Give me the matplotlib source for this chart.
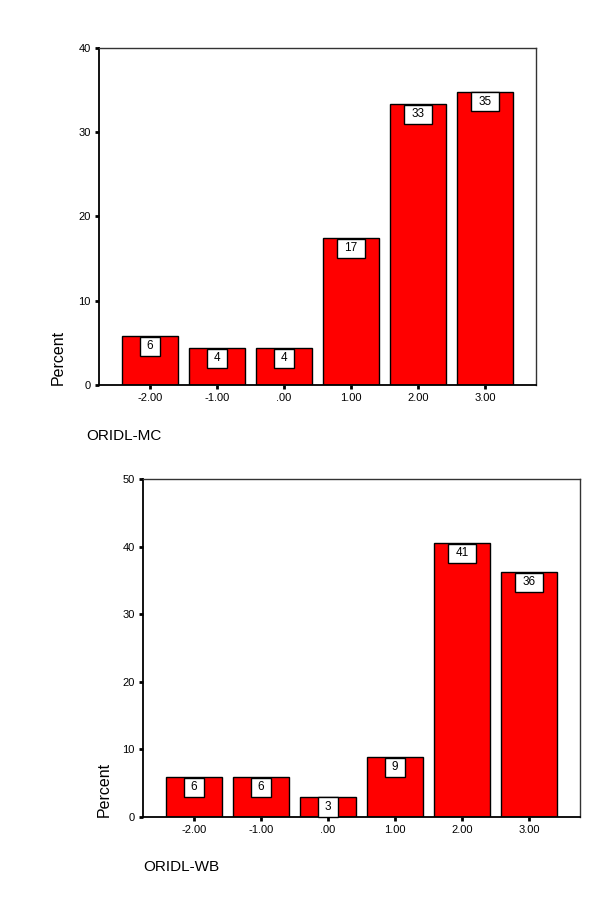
import matplotlib
matplotlib.use('Agg')
import matplotlib.pyplot as plt
from matplotlib.path import Path
import numpy as np

plt.rcParams['font.family'] = ['Liberation Sans', 'DejaVu Sans']

categories = ['-2.00', '-1.00', '.00', '1.00', '2.00', '3.00']

# ORIDL-MC
mc_values = [5.8, 4.35, 4.35, 17.4, 33.3, 34.8]
mc_labels = ['6', '4', '4', '17', '33', '35']

# ORIDL-WB
wb_values = [5.9, 5.9, 2.95, 8.85, 40.5, 36.2]
wb_labels = ['6', '6', '3', '9', '41', '36']

fig = plt.figure(figsize=(6, 9.17), dpi=100)

LABEL_FS = 8.5
PAD_X = 0.6
PAD_Y = 0.3


# label box: wider than it is tall, like the spss value labels
def wide_box(x0, y0, width, height, mutation_size):
    px = PAD_X * mutation_size
    py = PAD_Y * mutation_size
    x0, y0 = x0 - px, y0 - py
    x1, y1 = x0 + width + 2 * px, y0 + height + 2 * py
    return Path([(x0, y0), (x1, y0), (x1, y1), (x0, y1), (x0, y0)], closed=True)


def draw(ax, values, labels, ymax, title, title_x, title_y, ylab_x):
    x = np.arange(len(categories))
    ax.bar(x, values, width=0.84, color='#ff0000', edgecolor='black', linewidth=1)
    ax.set_xlim(-0.76, len(categories) - 1 + 0.76)
    ax.set_ylim(0, ymax)
    for xi, v, lab in zip(x, values, labels):
        ax.annotate(lab, (xi, v), xytext=(0, -(PAD_Y * LABEL_FS + 0.3)), textcoords='offset points',
                    ha='center', va='top', fontsize=LABEL_FS,
                    bbox=dict(boxstyle=wide_box, fc='white', ec='black', lw=1))
    ax.set_xticks(x)
    ax.set_xticklabels(categories)
    ax.set_yticks(np.arange(0, ymax + 1, 10))
    ax.tick_params(axis='both', length=3, width=2, labelsize=8, pad=3)
    for s in ['left', 'bottom']:
        ax.spines[s].set_linewidth(1.3)
        ax.spines[s].set_color('black')
    for s in ['top', 'right']:
        ax.spines[s].set_linewidth(1.0)
        ax.spines[s].set_color('#333333')
    pos = ax.get_position()
    fig.text(ylab_x, pos.y0, 'Percent', rotation=90, ha='center', va='bottom', fontsize=11.5)
    fig.text(title_x, title_y, title, ha='left', va='center', fontsize=11)


ax1 = fig.add_axes([99 / 600, 1 - 385 / 917, (536 - 99) / 600, (385 - 48) / 917])
draw(ax1, mc_values, mc_labels, 40, 'ORIDL-MC', 86 / 600, 1 - 436 / 917, 58 / 600)

ax2 = fig.add_axes([143 / 600, 1 - 817 / 917, (580 - 143) / 600, (817 - 479) / 917])
draw(ax2, wb_values, wb_labels, 50, 'ORIDL-WB', 143 / 600, 1 - 867 / 917, 104 / 600)

fig.savefig('out.png', dpi=100)
